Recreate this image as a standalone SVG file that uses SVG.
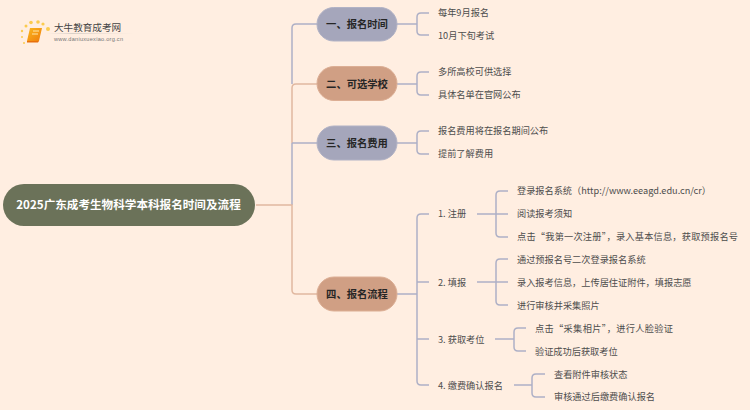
<svg xmlns="http://www.w3.org/2000/svg" width="750" height="410" viewBox="0 0 750 410">
<defs>
<linearGradient id="bk" x1="0" y1="0" x2="1" y2="1"><stop offset="0" stop-color="#fbb81e"/><stop offset="1" stop-color="#ef7d0c"/></linearGradient>
<linearGradient id="rule" x1="0" x2="1"><stop offset="0" stop-color="#e8ddd4" stop-opacity="0"/><stop offset=".3" stop-color="#d8d0c8"/><stop offset="1" stop-color="#e8ddd4" stop-opacity="0"/></linearGradient>
</defs>
<style>
text{font-family:"Noto Sans CJK SC","Liberation Sans",sans-serif}
.t{font-size:9.2px;fill:#4d4d4d}
.b{font-size:10.3px;font-weight:700;fill:#262626;text-anchor:middle}
.c{fill:none;stroke-width:1.5;stroke:#aeb0c6}
.o{stroke:#e1b8a0}
.d{fill:#fbcb4e}
.n{stroke-width:1}
.g{fill:#a5a6bb;stroke:#b1b2c5}
.p{fill:#d09f84;stroke:#dcae94}
</style>
<rect width="750" height="410" fill="#ffeee1"/>
<g id="connectors">
<path class="c" d="M292 84V28Q292 24 296 24H317"/>
<path class="c o" d="M292 143V88Q292 84 296 84H317"/>
<path class="c" d="M292 205V143M292 143H317"/>
<path class="c o" d="M256 205H292V290Q292 294 296 294H317"/>
<path class="c" d="M397 24H417M429 13H421Q417 13 417 17V31Q417 35 421 35H429"/>
<path class="c" d="M397 84H417M429 72H421Q417 72 417 76V91Q417 95 421 95H429"/>
<path class="c" d="M397 143H417M429 131H421Q417 131 417 135V150Q417 154 421 154H429"/>
<path class="c" d="M397 294H417M429 214H421Q417 214 417 218V381Q417 385 421 385H429M417 282H429M417 339H429"/>
<path class="c" d="M477 214H508M508 191H500Q496 191 496 195V233Q496 237 500 237H508"/>
<path class="c" d="M477 282H508M508 259H500Q496 259 496 263V301Q496 305 500 305H508"/>
<path class="c" d="M495 339H514M526 328H518Q514 328 514 332V347Q514 351 518 351H526"/>
<path class="c" d="M514 385H532M545 374H536Q532 374 532 378V393Q532 397 536 397H545"/>
</g>
<g id="logo">
<circle class="d" cx="48" cy="29" r="2"/><circle class="d" cx="43" cy="24" r="1.6"/><circle class="d" cx="38" cy="22" r="1.8"/><circle class="d" cx="31" cy="22.5" r="1.8"/><circle class="d" cx="26" cy="26" r="1.5"/><circle class="d" cx="22" cy="31" r="1.2"/><circle class="d" cx="22" cy="37" r="1"/><circle class="d" cx="24" cy="43" r="1"/>
<path d="M30 28H42L39 41H27Z" fill="url(#bk)"/><path d="M27 41H39L38 42.5H27Z" fill="#e8700c"/>
<path d="M33 31H39M32 34H38" stroke="#ffe6a8" stroke-width="1"/>
<text x="54" y="31" font-size="9.6" fill="#444">大牛教育成考网</text>
<rect x="46" y="33" width="88" height="1" fill="url(#rule)"/>
<text x="54" y="41" style="font-family:'Liberation Sans',sans-serif" font-size="5.6" fill="#777" textLength="69">www.daniuxuexiao.org.cn</text>
</g>
<g id="root"><rect x="3" y="184" width="252" height="42" rx="21" fill="#6b7259"/><text x="128.500" y="209" text-anchor="middle" font-size="11.600" font-weight="700" fill="#fff">2025广东成考生物科学本科报名时间及流程</text></g>
<g id="n1"><rect class="n g" x="317" y="7.500" width="80" height="33.500" rx="16.700"/><text class="b" x="357" y="28">一、报名时间</text></g>
<g id="n2"><rect class="n p" x="317" y="66.500" width="80" height="34" rx="17"/><text class="b" x="357" y="87.500">二、可选学校</text></g>
<g id="n3"><rect class="n g" x="317" y="126" width="80" height="34" rx="17"/><text class="b" x="357" y="146.700">三、报名费用</text></g>
<g id="n4"><rect class="n p" x="317" y="277" width="80" height="34" rx="17"/><text class="b" x="357" y="297.700">四、报名流程</text></g>
<g id="leaves">
<text class="t" x="438" y="16.300">每年9月报名</text>
<text class="t" x="438" y="38.800">10月下旬考试</text>
<text class="t" x="438" y="75.300">多所高校可供选择</text>
<text class="t" x="438" y="98.300">具体名单在官网公布</text>
<text class="t" x="438" y="134.300">报名费用将在报名期间公布</text>
<text class="t" x="438" y="157.300">提前了解费用</text>
<text class="t" x="438" y="217">1. 注册</text>
<text class="t" x="438" y="285.700">2. 填报</text>
<text class="t" x="438" y="342.700">3. 获取考位</text>
<text class="t" x="438" y="388.700">4. 缴费确认报名</text>
<text class="t" x="517" y="194" textLength="194">登录报名系统（http://www.eeagd.edu.cn/cr）</text>
<text class="t" x="517" y="217">阅读报考须知</text>
<text class="t" x="517" y="240" textLength="221">点击“我第一次注册”，录入基本信息，获取预报名号</text>
<text class="t" x="517" y="262.700">通过预报名号二次登录报名系统</text>
<text class="t" x="517" y="285.700">录入报考信息，上传居住证附件，填报志愿</text>
<text class="t" x="517" y="308.700">进行审核并采集照片</text>
<text class="t" x="535" y="331.700" textLength="138">点击“采集相片”，进行人脸验证</text>
<text class="t" x="535" y="354.700">验证成功后获取考位</text>
<text class="t" x="554" y="377.700">查看附件审核状态</text>
<text class="t" x="554" y="400">审核通过后缴费确认报名</text>
</g>
</svg>
